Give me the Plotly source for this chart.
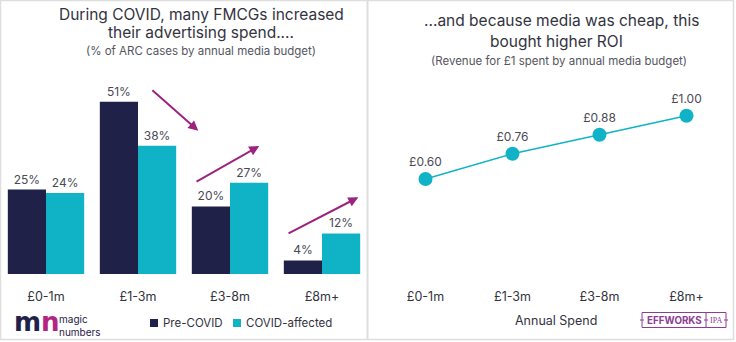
import plotly.graph_objects as go

# Data
spend_bands = ["£0-1m", "£1-3m", "£3-8m", "£8m+"]
series_names = ["Pre-COVID", "COVID-affected"]
pre_covid = [25, 51, 20, 4]
covid_affected = [24, 38, 27, 12]
roi_values = [0.60, 0.76, 0.88, 1.00]
roi_labels = ["£0.60", "£0.76", "£0.88", "£1.00"]

NAVY = "#1f2148"
TEAL = "#10b3c6"
ARROW = "#9c237f"
TEXT = "#333340"
LABEL = "#4a4a55"
FONT = "Inter"

W, H = 736, 342

fig = go.Figure()

for name, vals, col in [(series_names[0], pre_covid, NAVY),
                        (series_names[1], covid_affected, TEAL)]:
    fig.add_bar(x=spend_bands, y=vals, name=name,
                marker=dict(color=col, line=dict(width=0)),
                text=[f"{v}%" for v in vals], textposition="outside",
                textfont=dict(size=12, color=LABEL), cliponaxis=False,
                showlegend=False, xaxis="x", yaxis="y")

fig.add_scatter(x=spend_bands, y=roi_values, mode="lines+markers+text",
                text=roi_labels, textposition="top center",
                textfont=dict(size=12, color=LABEL),
                line=dict(color=TEAL, width=1.5),
                marker=dict(color=TEAL, size=14),
                showlegend=False, cliponaxis=False,
                xaxis="x2", yaxis="y2")


def py(px):
    """Pixel row (from top) to paper fraction."""
    return 1 - px / H


def pxx(px):
    return px / W


y_dom = [py(274), py(70)]

fig.update_layout(
    width=W, height=H,
    margin=dict(l=0, r=0, t=0, b=0),
    paper_bgcolor="white", plot_bgcolor="white",
    font=dict(family=FONT, color=TEXT),
    barmode="group", bargap=0.17, bargroupgap=0,
    xaxis=dict(domain=[0, 0.5], range=[-0.5, 3.5], showgrid=False,
               showline=False, zeroline=False, ticks="",
               tickfont=dict(size=12.5, color=TEXT), ticklabelstandoff=13),
    yaxis=dict(domain=y_dom, range=[0, 204 / 3.378], visible=False),
    xaxis2=dict(domain=[pxx(382), pxx(730)], range=[-0.5, 3.5],
                anchor="y2", showgrid=False, showline=False, zeroline=False,
                ticks="", tickfont=dict(size=12.5, color=TEXT),
                ticklabelstandoff=13),
    yaxis2=dict(domain=y_dom, range=[0, 204 / 158.25], visible=False,
                anchor="x2"),
    showlegend=False,
)

annotations = []


def text(x, y, s, size, color=TEXT, xanchor="center", family=FONT,
         align="center"):
    annotations.append(dict(x=pxx(x), y=py(y), xref="paper", yref="paper",
                            text=s, showarrow=False, align=align,
                            font=dict(size=size, color=color, family=family),
                            xanchor=xanchor, yanchor="middle"))


# Panel titles
text(201, 14, "During COVID, many FMCGs increased", 15.5)
text(201, 33, "their advertising spend....", 15.5)
text(201, 51, "(% of ARC cases by annual media budget)", 11.5, "#555560")
text(561, 21, "...and because media was cheap, this", 15.5)
text(556, 42, "bought higher ROI", 15.5)
text(559, 61, "(Revenue for £1 spent by annual media budget)", 11.5, "#555560")

# Right axis title
text(556, 320, "Annual Spend", 12.5)

# Trend arrows over the bar groups
for (tx, ty, hx, hy) in [(1.14, 54.8, 1.655, 42.4),
                         (1.62, 27.1, 2.318, 37.9),
                         (2.62, 11.8, 3.395, 22.7)]:
    annotations.append(dict(x=hx, y=hy, ax=tx, ay=ty, xref="x", yref="y",
                            axref="x", ayref="y", showarrow=True,
                            arrowhead=2, arrowsize=1, arrowwidth=2,
                            arrowcolor=ARROW, text=""))

shapes = []

# Series key under the bars
for name, col, x0 in [(series_names[0], NAVY, 150), (series_names[1], TEAL, 233)]:
    shapes.append(dict(type="rect", xref="paper", yref="paper",
                       x0=pxx(x0), x1=pxx(x0 + 8), y0=py(327), y1=py(319),
                       fillcolor=col, line=dict(width=0)))
    text(x0 + 11, 323, name, 11.5, TEXT, xanchor="left")

# magic numbers logo
text(12, 322, f"<b><span style='color:{NAVY}'>m</span>"
              f"<span style='color:#b3267f'>n</span></b>", 26,
     xanchor="left", family="DejaVu Sans")
text(57, 325, "magic<br>numbers", 10, NAVY, xanchor="left", align="left")

# EFFWORKS / IPA badge
PURPLE = "#8e3d95"
text(674, 320, "<b>EFFWORKS</b>", 9.8, PURPLE)
text(716, 320, "IPA", 8, PURPLE, family="Liberation Serif")

shapes += [
    # outer frame and panel divider
    dict(type="rect", xref="paper", yref="paper", x0=pxx(0.5), x1=pxx(733.5),
         y0=py(339.5), y1=py(0.5), line=dict(color="#dedede", width=1.5)),
    dict(type="line", xref="paper", yref="paper", x0=pxx(367.5), x1=pxx(367.5),
         y0=py(339.5), y1=py(0), line=dict(color="#dedede", width=2)),
    # badge outline
    dict(type="rect", xref="paper", yref="paper", x0=pxx(642), x1=pxx(726),
         y0=py(327.5), y1=py(312.5), line=dict(color=PURPLE, width=1)),
    dict(type="line", xref="paper", yref="paper", x0=pxx(706), x1=pxx(706),
         y0=py(327.5), y1=py(312.5), line=dict(color=PURPLE, width=1)),
]
for bx in (642, 706, 726):
    shapes.append(dict(type="line", xref="paper", yref="paper",
                       x0=pxx(bx - 2), x1=pxx(bx + 2), y0=py(320), y1=py(320),
                       line=dict(color=PURPLE, width=1)))

fig.update_layout(annotations=annotations, shapes=shapes)

fig.write_html("out.html")
